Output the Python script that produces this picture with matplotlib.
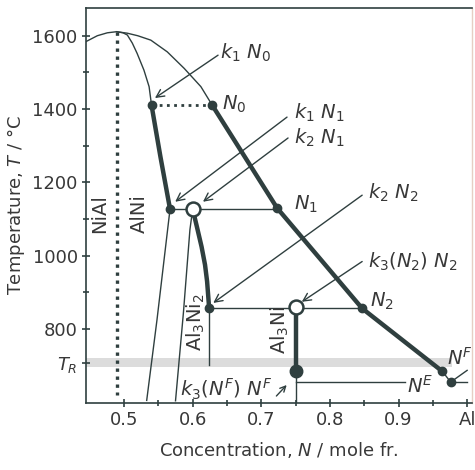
import numpy as np
import matplotlib
matplotlib.use("Agg")
import matplotlib.pyplot as plt

plt.rcParams['font.family'] = ['DejaVu Sans']
plt.rcParams['mathtext.fontset'] = 'dejavusans'

INK = '#2f3f3f'
TXT = '#383838'

# liquidus dome (thin part) from the left edge over the NiAl maximum to N0
dome_x = [0.4445, 0.461, 0.4756, 0.489, 0.5046, 0.52, 0.539, 0.563, 0.5876, 0.612, 0.628]
dome_T = [1584, 1600, 1608, 1611, 1607, 1600, 1588, 1556, 1511, 1461, 1412]
# liquidus, thick part N0 -> N1 -> N2 -> NF
liq_x = [0.628, 0.723, 0.847, 0.964]
liq_T = [1412, 1130, 856, 684]
# NiAl solidus: thin from maximum, thick from k1 N0 to k1 N1, thin to bottom
sol_thin_x = [0.489, 0.4985, 0.5048, 0.512, 0.519, 0.529, 0.5365, 0.540]
sol_thin_T = [1611, 1608, 1602, 1580, 1552, 1506, 1461, 1411]
sol_thick_x = [0.540, 0.553, 0.567]
sol_thick_T = [1411, 1270, 1127]
sol_low_x = [0.567, 0.548, 0.533]
sol_low_T = [1127, 825, 605]
# Al3Ni2 left boundary and thick path to Al3Ni2 point
a32_left_x = [0.600, 0.596, 0.5865, 0.575]
a32_left_T = [1127, 1071, 844, 604]
a32_thick_x = [0.600, 0.606, 0.613, 0.618, 0.621, 0.624]
a32_thick_T = [1127, 1080, 1024, 975, 930, 857]

# key points
pts = {'k1N0': (0.540, 1411), 'N0': (0.628, 1412), 'k1N1': (0.567, 1127),
       'N1': (0.723, 1130), 'Al3Ni2': (0.624, 857), 'N2': (0.847, 856),
       'NF': (0.964, 684), 'NE': (0.976, 655)}
open_pts = [(0.600, 1127), (0.750, 860)]
al3ni_x = 0.750
al3ni_T = [860, 685, 598]
T_R = 708

fig = plt.figure(figsize=(4.75, 4.70), dpi=100)
ax = fig.add_axes([0.181, 0.1426, 0.813, 0.8414])
ax.set_xlim(0.4445, 1.0073)
ax.set_ylim(598, 1677)

# T_R band
ax.fill_between([0.4445, 0.978], 696, 720, color='#dcdcdc', lw=0, zorder=0)

thin = dict(color=INK, lw=1.0, zorder=2)
thick = dict(color=INK, lw=3.2, zorder=3, solid_capstyle='round')

ax.plot(dome_x, dome_T, **thin)
ax.plot(liq_x, liq_T, **thick)
ax.plot([pts['NF'][0], pts['NE'][0]], [pts['NF'][1], pts['NE'][1]], **thin)
ax.plot(sol_thin_x, sol_thin_T, **thin)
ax.plot(sol_thick_x, sol_thick_T, **thick)
ax.plot(sol_low_x, sol_low_T, **thin)
ax.plot(a32_left_x, a32_left_T, **thin)
ax.plot(a32_thick_x, a32_thick_T, **thick)

# tie lines
ax.plot([pts['k1N0'][0], pts['N0'][0]], [1411, 1411], color=INK, lw=2.0,
        ls=(0, (1, 1.6)), zorder=2)
ax.plot([pts['k1N1'][0], pts['N1'][0]], [1127, 1127], **thin)
ax.plot([pts['Al3Ni2'][0], pts['N2'][0]], [857, 857], **thin)
ax.plot([0.624, 0.624], [857, 702], **thin)
ax.plot([0.750, 0.910], [655, 655], **thin)
ax.plot([pts['NE'][0], 1.0], [655, 655], **thin)
ax.plot([pts['NE'][0], 1.0], [655, 687], **thin)

# NiAl composition
ax.plot([0.489, 0.489], [1611, 620], color=INK, lw=2.4, ls=(0, (1, 1.4)), zorder=2)

# Al3Ni line
ax.plot([al3ni_x, al3ni_x], al3ni_T[:2], **thick)
ax.plot([al3ni_x, al3ni_x], al3ni_T[1:], **thin)

for x, T in pts.values():
    ax.plot(x, T, 'o', color=INK, ms=6, zorder=5)
ax.plot(al3ni_x, al3ni_T[1], 'o', color=INK, ms=9, zorder=5)
for x, T in open_pts:
    ax.plot(x, T, 'o', mfc='white', mec=INK, mew=1.8, ms=10, zorder=6)

fs = 13
afs = 14
arrow = dict(arrowstyle='->', color=INK, lw=1.0, shrinkA=0, shrinkB=0,
             mutation_scale=14)
notes = [
    (r'$k_1\ N_0$', (0.545, 1430), (0.637, 1547), (0.640, 1552)),
    (r'$k_1\ N_1$', (0.5745, 1147), (0.7375, 1378), (0.747, 1389)),
    (r'$k_2\ N_1$', (0.615, 1147), (0.739, 1321), (0.747, 1321)),
    (r'$k_2\ N_2$', (0.630, 871), (0.847, 1165), (0.856, 1171)),
    (r'$k_3(N_2)\ N_2$', (0.759, 874), (0.847, 984), (0.856, 983)),
]
for label, tip, start, txt in notes:
    ax.annotate('', xy=tip, xytext=start, arrowprops=arrow, zorder=4)
    ax.text(txt[0], txt[1], label, fontsize=afs, color=TXT, va='center', ha='left')

ax.text(0.582, 636, r'$k_3(N^F)\ N^F$', fontsize=afs, color=TXT, va='center', ha='left')
ax.annotate('', xy=(0.737, 647), xytext=(0.722, 617),
            arrowprops=dict(arrowstyle='->', color=INK, lw=1.0, shrinkA=0,
                            shrinkB=0, mutation_scale=10))

for label, x, T in [(r'$N_0$', 0.643, 1414), (r'$N_1$', 0.747, 1141),
                    (r'$N_2$', 0.859, 874), (r'$N^F$', 0.970, 721),
                    (r'$N^E$', 0.912, 644)]:
    ax.text(x, T, label, fontsize=afs, color=TXT, va='center', ha='left')

for label, x, T in [('NiAl', 0.465, 1116), ('AlNi', 0.523, 1116),
                    (r'Al$_3$Ni$_2$', 0.605, 819), (r'Al$_3$Ni', 0.727, 797)]:
    ax.text(x, T, label, fontsize=afs, color=TXT, rotation=90,
            va='center', ha='center')

ax.set_xticks([0.5, 0.6, 0.7, 0.8, 0.9, 1.0])
ax.set_xticklabels(['0.5', '0.6', '0.7', '0.8', '0.9', 'Al'])
ax.set_xticks([0.55, 0.65, 0.75, 0.85, 0.95], minor=True)
ax.set_yticks([T_R, 800, 1000, 1200, 1400, 1600])
ax.set_yticklabels([r'$T_R$', '800', '1000', '1200', '1400', '1600'])
ax.set_yticks([900, 1100, 1300, 1500], minor=True)
ax.tick_params(which='both', direction='inout', color=INK, width=1.2,
               labelsize=fs, labelcolor=TXT)
ax.tick_params(which='major', length=6, pad=3)
ax.tick_params(which='minor', length=5)

for side in ['left', 'bottom', 'top']:
    ax.spines[side].set_color(INK)
    ax.spines[side].set_linewidth(1.2)
ax.spines['right'].set_color('#e6cfc4')
ax.spines['right'].set_linewidth(1.0)

ax.set_xlabel(r'Concentration, $N$ / mole fr.', fontsize=13, color=TXT, labelpad=8)
ax.set_ylabel(r'Temperature, $T$ / °C', fontsize=13, color=TXT, labelpad=4)

fig.savefig('out.png', dpi=100)
